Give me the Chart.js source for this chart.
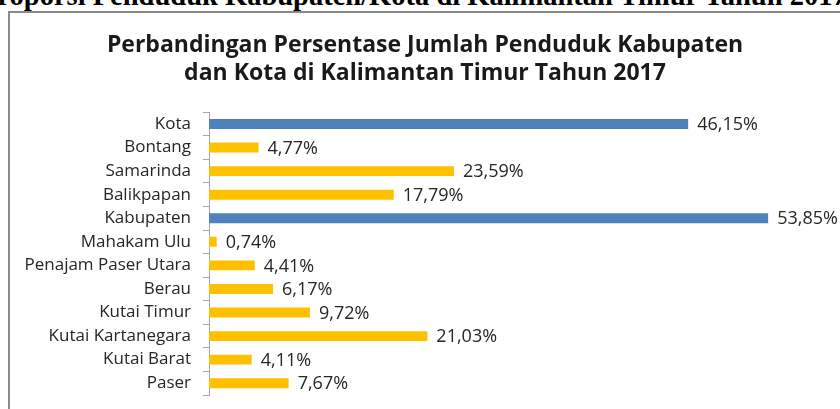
<!DOCTYPE html>
<html>
<head>
<meta charset="utf-8">
<script src="https://cdn.jsdelivr.net/npm/chart.js@4/dist/chart.umd.min.js"></script>
<style>
    html, body { margin: 0; padding: 0; background: #fff; }
    .page { position: relative; width: 840px; height: 409px; overflow: hidden; }
    .heading {
        position: absolute; left: -20px; top: -20px; width: 880px;
        text-align: left; white-space: nowrap;
        font: bold 28.5px "Liberation Serif", serif; color: #000;
    }
    .frame {
        position: absolute; left: 8px; top: 11px; width: 900px; height: 420px;
        border-left: 2px solid #8a8a8a; border-top: 2px solid #8a8a8a;
    }
    #chart { position: absolute; left: 0; top: 0; }
</style>
</head>
<body>
<div class="page">
    <div class="heading">Proporsi Penduduk Kabupaten/Kota di Kalimantan Timur Tahun 2017</div>
    <div class="frame"></div>
    <canvas id="chart" width="840" height="409"></canvas>
</div>
<script>
// datos (de arriba hacia abajo)
const categories = ['Kota', 'Bontang', 'Samarinda', 'Balikpapan', 'Kabupaten', 'Mahakam Ulu',
    'Penajam Paser Utara', 'Berau', 'Kutai Timur', 'Kutai Kartanegara', 'Kutai Barat', 'Paser'];
const values = [46.15, 4.77, 23.59, 17.79, 53.85, 0.74, 4.41, 6.17, 9.72, 21.03, 4.11, 7.67];
const totals = ['Kota', 'Kabupaten'];

const BLUE = '#4F81BD';
const YELLOW = '#FFC000';
const barColors = categories.map(c => totals.includes(c) ? BLUE : YELLOW);

// etiquetas de valor al final de cada barra, con coma decimal
const valueLabels = {
    id: 'valueLabels',
    afterDatasetsDraw(chart) {
        const ctx = chart.ctx;
        const meta = chart.getDatasetMeta(0);
        ctx.save();
        ctx.font = '18px "Open Sans", sans-serif';
        ctx.fillStyle = '#262626';
        ctx.textAlign = 'left';
        ctx.textBaseline = 'middle';
        meta.data.forEach((bar, i) => {
            const txt = values[i].toFixed(2).replace('.', ',') + '%';
            ctx.fillText(txt, bar.x + 9, bar.y + 1);
        });
        ctx.restore();
    }
};

new Chart(document.getElementById('chart'), {
    type: 'bar',
    data: {
        labels: categories,
        datasets: [{
            data: values,
            backgroundColor: barColors,
            borderWidth: 0,
            barPercentage: 0.42,
            categoryPercentage: 1
        }]
    },
    options: {
        indexAxis: 'y',
        responsive: false,
        animation: false,
        layout: { padding: { left: 18, right: 8, bottom: 14 } },
        plugins: {
            legend: { display: false },
            tooltip: { enabled: false },
            title: {
                display: true,
                text: ['Perbandingan Persentase Jumlah Penduduk Kabupaten',
                       'dan Kota di Kalimantan Timur Tahun 2017'],
                color: '#1a1a1a',
                font: { family: '"Open Sans", sans-serif', size: 23, weight: 'bold', lineHeight: 1.2 },
                padding: { top: 32, bottom: 25 }
            }
        },
        scales: {
            x: {
                display: false,
                min: 0,
                max: 60
            },
            y: {
                afterFit(scale) {
                    scale.width = 191;
                    scale.paddingTop = 0;
                    scale.paddingBottom = 0;
                },
                grid: {
                    offset: true,
                    drawOnChartArea: false,
                    drawTicks: true,
                    tickLength: 6,
                    color: '#a6a6a6'
                },
                border: { display: true, color: '#a6a6a6', width: 1 },
                ticks: {
                    color: '#262626',
                    padding: 12,
                    font: { family: '"Open Sans", sans-serif', size: 17 }
                }
            }
        }
    },
    plugins: [valueLabels]
});
</script>
</body>
</html>
